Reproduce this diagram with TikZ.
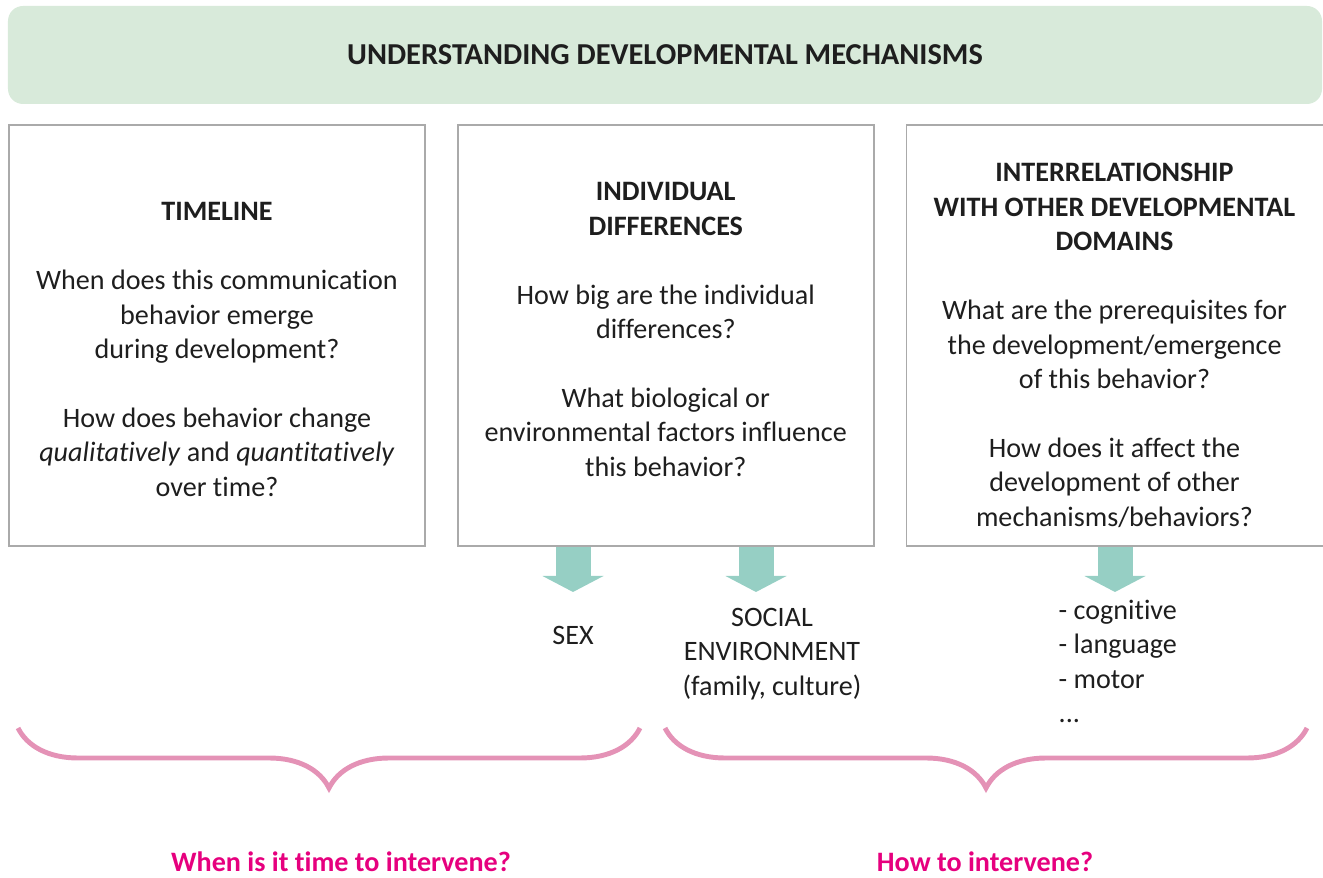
\documentclass[tikz,border=0pt]{standalone}
\usepackage{fontspec}
\setmainfont{Carlito}[Ligatures=NoCommon]
\usetikzlibrary{positioning, arrows.meta, decorations.pathreplacing}

\definecolor{headgreen}{RGB}{216,234,218}
\definecolor{framegray}{RGB}{170,170,170}
\definecolor{arrowteal}{RGB}{150,207,196}
\definecolor{bracepink}{RGB}{228,146,182}
\definecolor{askpink}{RGB}{230,0,126}
\definecolor{inkgray}{RGB}{30,30,30}

\tikzstyle{banner} = [rectangle, rounded corners=0.3cm, minimum width=26.28cm, minimum height=1.96cm, fill=headgreen, text=inkgray, font=\fontsize{17.3}{21}\selectfont\bfseries]
\tikzstyle{panel} = [rectangle, minimum width=8.32cm, minimum height=8.42cm, draw=framegray, line width=1pt]
\tikzstyle{question} = [align=center, text=inkgray, font=\fontsize{16}{19.6}\selectfont]
\tikzstyle{factor} = [text=inkgray, font=\fontsize{16}{19.6}\selectfont]
\tikzstyle{bigarrow} = [draw=arrowteal, line width=0.7cm, -{Triangle[width=1.22cm,length=0.32cm,line width=0pt]}]
\tikzstyle{curly} = [draw=bracepink, line width=2.8pt, decorate, decoration={brace, amplitude=1.2cm, aspect=0.5}]
\tikzstyle{when} = [text=askpink, font=\fontsize{16}{19.6}\selectfont\bfseries]

\begin{document}
\begin{tikzpicture}

    \useasboundingbox (0,0) rectangle (26.46,-17.56);

    \node (mechanisms) [banner] at (13.3,-1.1) {UNDERSTANDING DEVELOPMENTAL MECHANISMS};

    % three question panels
    \node (timeline) [panel] at (4.34,-6.71) {};
    \node (traits) [panel, right=0.62cm of timeline] {};
    \node (domains) [panel, right=0.62cm of traits, minimum width=8.8cm] {};

    \node (timelinetxt) [question] at ([yshift=-0.28cm]timeline.center) {\textbf{TIMELINE}\\[19.6pt]
        When does this communication\\ behavior emerge\\ during development?\\[19.6pt]
        How does behavior change\\ \textit{qualitatively} and \textit{quantitatively}\\ over time?};
    \node (traitstxt) [question] at ([yshift=0.12cm]traits.center) {\textbf{INDIVIDUAL}\\ \textbf{DIFFERENCES}\\[19.6pt]
        How big are the individual\\ differences?\\[19.6pt]
        What biological or\\ environmental factors influence\\ this behavior?};
    \node (domainstxt) [question] at ([xshift=-0.24cm, yshift=-0.2cm]domains.center) {\textbf{INTERRELATIONSHIP}\\ \textbf{WITH OTHER DEVELOPMENTAL}\\ \textbf{DOMAINS}\\[19.6pt]
        What are the prerequisites for\\ the development/emergence\\ of this behavior?\\[19.6pt]
        How does it affect the\\ development of other\\ mechanisms/behaviors?};

    % what the panels lead to
    \node (sex) [factor] at (11.46,-12.7) {SEX};
    \node (social) [factor, align=center] at (15.44,-13.08) {SOCIAL\\ ENVIRONMENT\\ (family, culture)};
    \node (others) [factor, align=left, anchor=west] at (21.05,-13.23) {- cognitive\\ - language\\ - motor\\ ...};

    \coordinate (sexend) at (11.46,-11.84);
    \coordinate (socialend) at (15.12,-11.84);
    \coordinate (othersend) at (22.3,-11.84);

    \draw [bigarrow] (traits.south -| sexend) -- (sexend);
    \draw [bigarrow] (traits.south -| socialend) -- (socialend);
    \draw [bigarrow] (domains.south -| othersend) -- (othersend);

    % braces and the two questions
    \draw [curly] (12.8,-14.56) -- (0.36,-14.56);
    \draw [curly] (26.14,-14.56) -- (13.3,-14.56);

    \node (whenask) [when] at (6.82,-17.24) {When is it time to intervene?};
    \node (howask) [when] at (19.7,-17.24) {How to intervene?};

\end{tikzpicture}
\end{document}
